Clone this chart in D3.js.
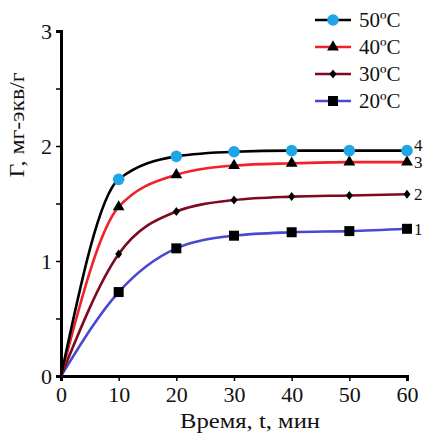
<!DOCTYPE html>
<html>
<head>
<meta charset="utf-8">
<script src="https://cdn.jsdelivr.net/npm/d3@7"></script>
<style>
  body { margin: 0; background: #fff; }
  text { font-family: "Liberation Serif", "Times New Roman", serif; fill: #111; }
</style>
</head>
<body>
<script>
// data
var times = [0, 10, 20, 30, 40, 50, 60];
var s50 = [0, 1.71, 1.91, 1.95, 1.96, 1.96, 1.96];
var s40 = [0, 1.47, 1.75, 1.83, 1.85, 1.86, 1.86];
var s30 = [0, 1.06, 1.43, 1.53, 1.56, 1.57, 1.58];
var s20 = [0, 0.73, 1.11, 1.22, 1.25, 1.26, 1.28];
var seriesNames = ["50ºC", "40ºC", "30ºC", "20ºC"];
var curveLabels = ["4", "3", "2", "1"];
var xTicks = [0, 10, 20, 30, 40, 50, 60];
var yTicks = [0, 1, 2, 3];

var series = [
  {name: seriesNames[0], vals: s50, color: "#000000", marker: "circle", label: curveLabels[0], dy: 0},
  {name: seriesNames[1], vals: s40, color: "#f2202a", marker: "triangle", label: curveLabels[1], dy: 6},
  {name: seriesNames[2], vals: s30, color: "#7d0a1e", marker: "diamond", label: curveLabels[2], dy: 6},
  {name: seriesNames[3], vals: s20, color: "#4848d0", marker: "square", label: curveLabels[3], dy: 6}
];

var W = 427, H = 435;
var svg = d3.select("body").append("svg")
    .attr("width", W)
    .attr("height", H);

// scales
var x = d3.scaleLinear().domain([0, 60]).range([61, 407]);
var y = d3.scaleLinear().domain([0, 3]).range([376, 31]);

// axes (minor ticks every 0.5 on y)
var yAxis = svg.append("g")
    .attr("transform", "translate(" + x(0) + ",0)")
    .call(d3.axisLeft(y).tickValues(d3.range(0, 3.01, 0.5)).tickSize(5)
      .tickFormat(function(d) { return yTicks.indexOf(d) >= 0 ? d : ""; }));
var xAxis = svg.append("g")
    .attr("transform", "translate(0," + y(0) + ")")
    .call(d3.axisBottom(x).tickValues(xTicks).tickSize(5));

[xAxis, yAxis].forEach(function(g) {
  g.select(".domain").attr("stroke", "#000").attr("stroke-width", 3);
  g.selectAll(".tick line").attr("stroke", "#000").attr("stroke-width", 1.5);
  g.selectAll(".tick text")
    .style("font-size", "22px")
    .attr("fill", "#111");
});
yAxis.selectAll(".tick text").attr("x", -9).attr("dy", "0.34em");
xAxis.selectAll(".tick text").attr("y", 10);

// axis titles
svg.append("text")
    .attr("transform", "translate(24,125) rotate(-90)")
    .attr("text-anchor", "middle")
    .attr("textLength", 105)
    .attr("lengthAdjust", "spacingAndGlyphs")
    .style("font-size", "20px")
    .text("Г, мг-экв/г");
svg.append("text")
    .attr("x", 250).attr("y", 428)
    .attr("text-anchor", "middle")
    .attr("textLength", 140)
    .attr("lengthAdjust", "spacingAndGlyphs")
    .style("font-size", "21px")
    .text("Время, t, мин");

var line = d3.line()
    .x(function(d, i) { return x(times[i]); })
    .y(function(d) { return y(d); })
    .curve(d3.curveMonotoneX);

var symbols = {
  circle: function(g) { g.append("circle").attr("r", 5.8).attr("fill", "#1ea6e6"); },
  triangle: function(g) { g.append("path").attr("d", d3.symbol(d3.symbolTriangle, 60)()).attr("fill", "#000"); },
  diamond: function(g) { g.append("path").attr("d", "M0,-4.5L3.5,0L0,4.5L-3.5,0Z").attr("fill", "#000"); },
  square: function(g) { g.append("rect").attr("x", -5).attr("y", -5).attr("width", 10).attr("height", 10).attr("fill", "#000"); }
};

// draw bottom series first
series.slice().reverse().forEach(function(s) {
  svg.append("path")
    .datum(s.vals)
    .attr("fill", "none")
    .attr("stroke", s.color)
    .attr("stroke-width", 2.6)
    .attr("d", line);
  s.vals.forEach(function(v, i) {
    if (i === 0) return;
    var g = svg.append("g").attr("transform", "translate(" + x(times[i]) + "," + y(v) + ")");
    symbols[s.marker](g);
  });
  svg.append("text")
    .attr("x", x(60) + 7)
    .attr("y", y(s.vals[s.vals.length - 1]) + s.dy)
    .style("font-size", "17px")
    .text(s.label);
});

// legend
var leg = svg.append("g").attr("transform", "translate(315,20)");
series.forEach(function(s, i) {
  var row = leg.append("g").attr("transform", "translate(0," + (i * 27) + ")");
  row.append("line")
    .attr("x1", 0).attr("x2", 36)
    .attr("stroke", s.color).attr("stroke-width", 2.6);
  var m = row.append("g").attr("transform", "translate(18,0)");
  symbols[s.marker](m);
  row.append("text")
    .attr("x", 44).attr("y", 7)
    .style("font-size", "21px")
    .text(s.name);
});
</script>
</body>
</html>
